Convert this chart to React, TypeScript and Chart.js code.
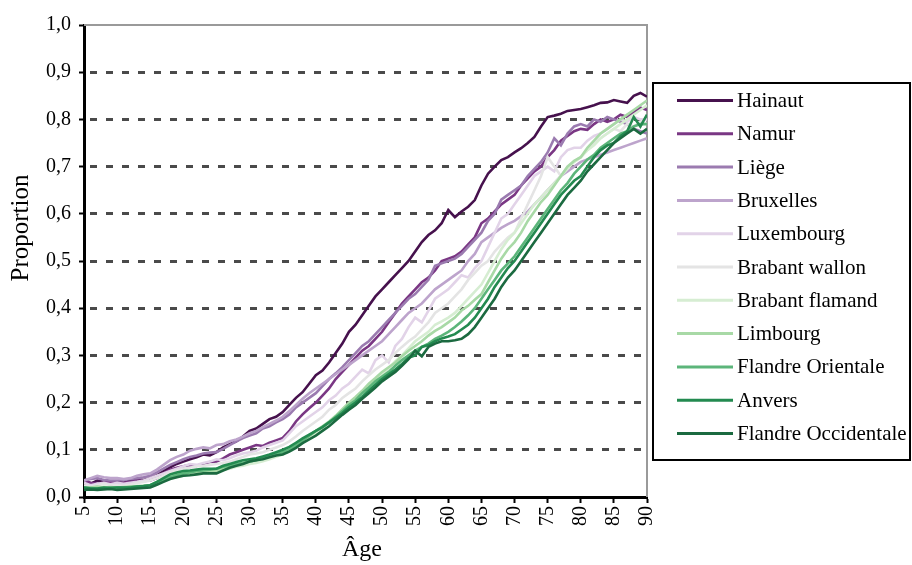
import React, { useEffect, useRef } from "react";
import { Chart, registerables } from "chart.js";

Chart.register(...registerables);

const ages: number[] = [];
for (let a = 5; a <= 90; a++) ages.push(a);

const regions = [
  "Hainaut",
  "Namur",
  "Liège",
  "Bruxelles",
  "Luxembourg",
  "Brabant wallon",
  "Brabant flamand",
  "Limbourg",
  "Flandre Orientale",
  "Anvers",
  "Flandre Occidentale",
];

const colors = [
  "#46114d",
  "#7a3784",
  "#9b7bb0",
  "#bda4cc",
  "#e2d3e8",
  "#e4e4e4",
  "#d6edd2",
  "#a8d9a6",
  "#5cb57a",
  "#238a50",
  "#1b6a40",
];

const yTicks = [0, 0.1, 0.2, 0.3, 0.4, 0.5, 0.6, 0.7, 0.8, 0.9, 1.0];
const xTicks = [5, 10, 15, 20, 25, 30, 35, 40, 45, 50, 55, 60, 65, 70, 75, 80, 85, 90];

const hainaut = [
  0.030, 0.028, 0.035, 0.033, 0.031,
  0.032, 0.030, 0.035, 0.038, 0.036,
  0.040, 0.046, 0.055, 0.063, 0.070,
  0.075, 0.080, 0.084, 0.090, 0.088,
  0.095, 0.105, 0.112, 0.118, 0.128,
  0.140, 0.145, 0.155, 0.165, 0.170,
  0.180, 0.195, 0.210, 0.222, 0.240,
  0.258, 0.268, 0.285, 0.305, 0.325,
  0.350, 0.365, 0.385, 0.405, 0.425,
  0.440, 0.455, 0.470, 0.485, 0.500,
  0.520, 0.540, 0.555, 0.565, 0.580,
  0.608, 0.593, 0.605, 0.615, 0.629,
  0.660, 0.685, 0.700, 0.714, 0.720,
  0.730, 0.739, 0.750, 0.763, 0.785,
  0.805, 0.808, 0.812, 0.818, 0.820,
  0.822, 0.826, 0.830, 0.835, 0.836,
  0.841, 0.838, 0.835, 0.850, 0.856,
  0.848,
];

const namur = [
  0.035, 0.030, 0.028, 0.030, 0.032,
  0.030, 0.030, 0.032, 0.035, 0.034,
  0.035, 0.040, 0.050, 0.058, 0.062,
  0.065, 0.068, 0.066, 0.070, 0.074,
  0.075, 0.082, 0.090, 0.095, 0.100,
  0.105, 0.110, 0.108, 0.115, 0.120,
  0.125, 0.140, 0.160, 0.175, 0.188,
  0.200, 0.215, 0.230, 0.250, 0.265,
  0.280, 0.295, 0.310, 0.320, 0.335,
  0.350, 0.370, 0.390, 0.410, 0.425,
  0.440, 0.455, 0.465, 0.480, 0.500,
  0.505, 0.510, 0.520, 0.535, 0.550,
  0.580, 0.590, 0.605, 0.620, 0.630,
  0.640, 0.660, 0.675, 0.690, 0.700,
  0.720, 0.735, 0.755, 0.765, 0.775,
  0.780, 0.778, 0.790, 0.800, 0.795,
  0.800, 0.810, 0.805, 0.815, 0.825,
  0.820,
];

const liege = [
  0.035, 0.038, 0.040, 0.036, 0.035,
  0.035, 0.036, 0.038, 0.040, 0.042,
  0.045, 0.052, 0.060, 0.068, 0.074,
  0.080, 0.085, 0.088, 0.092, 0.094,
  0.095, 0.102, 0.110, 0.118, 0.125,
  0.130, 0.135, 0.145, 0.150, 0.158,
  0.165, 0.175, 0.190, 0.200, 0.210,
  0.220, 0.235, 0.250, 0.262, 0.275,
  0.290, 0.305, 0.320, 0.330, 0.345,
  0.360, 0.375, 0.390, 0.405, 0.420,
  0.430, 0.445, 0.460, 0.490, 0.495,
  0.500, 0.505, 0.515, 0.530, 0.545,
  0.560, 0.585, 0.600, 0.630, 0.640,
  0.650, 0.660, 0.680, 0.695, 0.710,
  0.730, 0.760, 0.745, 0.770, 0.785,
  0.790, 0.785, 0.800, 0.795, 0.805,
  0.800, 0.795, 0.790, 0.780, 0.775,
  0.770,
];

const bruxelles = [
  0.035, 0.040, 0.045, 0.042, 0.040,
  0.040, 0.038, 0.040, 0.045, 0.048,
  0.050, 0.058, 0.068, 0.078, 0.085,
  0.090, 0.098, 0.102, 0.105, 0.103,
  0.110, 0.112, 0.118, 0.122, 0.128,
  0.135, 0.140, 0.148, 0.155, 0.162,
  0.170, 0.182, 0.195, 0.208, 0.220,
  0.230, 0.240, 0.250, 0.260, 0.270,
  0.280, 0.290, 0.300, 0.310, 0.320,
  0.330, 0.345, 0.360, 0.375, 0.390,
  0.400, 0.410, 0.425, 0.440, 0.450,
  0.460, 0.470, 0.480, 0.500, 0.515,
  0.540, 0.550, 0.560, 0.570, 0.578,
  0.585, 0.595, 0.605, 0.620, 0.635,
  0.650, 0.665, 0.680, 0.690, 0.700,
  0.710, 0.715, 0.720, 0.725, 0.730,
  0.735, 0.740, 0.745, 0.750, 0.755,
  0.760,
];

const luxembourg = [
  0.030, 0.025, 0.028, 0.030, 0.027,
  0.030, 0.028, 0.030, 0.032, 0.035,
  0.040, 0.045, 0.050, 0.055, 0.060,
  0.065, 0.070, 0.068, 0.072, 0.075,
  0.080, 0.078, 0.082, 0.088, 0.092,
  0.095, 0.098, 0.105, 0.110, 0.115,
  0.120, 0.135, 0.150, 0.160, 0.170,
  0.180, 0.190, 0.205, 0.215, 0.230,
  0.240, 0.255, 0.270, 0.262, 0.290,
  0.300, 0.285, 0.320, 0.335, 0.360,
  0.380, 0.370, 0.395, 0.420, 0.430,
  0.440, 0.455, 0.470, 0.465, 0.485,
  0.500, 0.530, 0.560, 0.590, 0.600,
  0.620, 0.640, 0.660, 0.680, 0.690,
  0.700, 0.690, 0.720, 0.735, 0.740,
  0.740, 0.755, 0.765, 0.770, 0.780,
  0.790, 0.800, 0.795, 0.805, 0.800,
  0.800,
];

const brabantWallon = [
  0.025, 0.022, 0.025, 0.028, 0.025,
  0.025, 0.024, 0.026, 0.030, 0.032,
  0.035, 0.040, 0.045, 0.052, 0.056,
  0.060, 0.062, 0.065, 0.066, 0.068,
  0.070, 0.072, 0.075, 0.080, 0.085,
  0.090, 0.092, 0.095, 0.100, 0.105,
  0.110, 0.118, 0.128, 0.140, 0.150,
  0.160, 0.170, 0.185, 0.195, 0.210,
  0.220, 0.230, 0.245, 0.258, 0.270,
  0.280, 0.290, 0.305, 0.318, 0.330,
  0.340, 0.355, 0.370, 0.390, 0.400,
  0.410, 0.425, 0.440, 0.460, 0.475,
  0.490, 0.500, 0.520, 0.535, 0.550,
  0.560, 0.590, 0.620, 0.650, 0.680,
  0.720, 0.700, 0.680, 0.700, 0.710,
  0.720, 0.735, 0.750, 0.760, 0.770,
  0.780, 0.775, 0.790, 0.785, 0.795,
  0.790,
];

const brabantFlamand = [
  0.020, 0.018, 0.020, 0.022, 0.020,
  0.020, 0.020, 0.022, 0.022, 0.024,
  0.025, 0.030, 0.035, 0.040, 0.042,
  0.045, 0.048, 0.050, 0.052, 0.054,
  0.055, 0.058, 0.060, 0.064, 0.066,
  0.070, 0.072, 0.076, 0.080, 0.085,
  0.090, 0.098, 0.108, 0.118, 0.125,
  0.135, 0.145, 0.158, 0.170, 0.182,
  0.195, 0.208, 0.220, 0.235, 0.248,
  0.260, 0.272, 0.288, 0.300, 0.315,
  0.330, 0.340, 0.350, 0.365, 0.372,
  0.380, 0.390, 0.405, 0.420, 0.435,
  0.450, 0.475, 0.500, 0.525, 0.545,
  0.560, 0.580, 0.600, 0.620, 0.635,
  0.650, 0.665, 0.680, 0.695, 0.710,
  0.720, 0.735, 0.745, 0.760, 0.770,
  0.780, 0.790, 0.800, 0.810, 0.820,
  0.830,
];

const limbourg = [
  0.020, 0.020, 0.022, 0.020, 0.021,
  0.020, 0.021, 0.022, 0.023, 0.024,
  0.025, 0.032, 0.038, 0.044, 0.048,
  0.050, 0.052, 0.053, 0.055, 0.054,
  0.055, 0.060, 0.064, 0.068, 0.072,
  0.075, 0.078, 0.082, 0.086, 0.090,
  0.095, 0.102, 0.110, 0.120, 0.130,
  0.140, 0.150, 0.160, 0.172, 0.186,
  0.200, 0.212, 0.225, 0.240, 0.252,
  0.265, 0.275, 0.285, 0.298, 0.310,
  0.320, 0.330, 0.342, 0.352, 0.360,
  0.370, 0.380, 0.395, 0.405, 0.418,
  0.430, 0.455, 0.480, 0.505, 0.525,
  0.540, 0.560, 0.585, 0.605, 0.625,
  0.640, 0.660, 0.680, 0.700, 0.712,
  0.720, 0.740, 0.755, 0.770, 0.780,
  0.790, 0.800, 0.810, 0.820, 0.830,
  0.840,
];

const flandreOrientale = [
  0.020, 0.019, 0.018, 0.019, 0.020,
  0.020, 0.020, 0.021, 0.022, 0.023,
  0.025, 0.030, 0.036, 0.042, 0.046,
  0.050, 0.052, 0.055, 0.056, 0.058,
  0.060, 0.064, 0.066, 0.070, 0.072,
  0.075, 0.078, 0.082, 0.086, 0.090,
  0.095, 0.100, 0.110, 0.120, 0.130,
  0.140, 0.148, 0.158, 0.170, 0.182,
  0.195, 0.205, 0.220, 0.232, 0.245,
  0.255, 0.265, 0.278, 0.290, 0.300,
  0.310, 0.318, 0.325, 0.335, 0.342,
  0.350, 0.360, 0.372, 0.385, 0.400,
  0.420, 0.440, 0.460, 0.480, 0.495,
  0.510, 0.530, 0.550, 0.570, 0.590,
  0.610, 0.630, 0.650, 0.665, 0.685,
  0.700, 0.715, 0.725, 0.740, 0.750,
  0.760, 0.770, 0.775, 0.785, 0.790,
  0.790,
];

const anvers = [
  0.020, 0.018, 0.018, 0.020, 0.019,
  0.020, 0.020, 0.020, 0.022, 0.023,
  0.025, 0.032, 0.040, 0.048, 0.052,
  0.055, 0.056, 0.058, 0.060, 0.060,
  0.060, 0.066, 0.070, 0.074, 0.078,
  0.080, 0.082, 0.086, 0.090, 0.095,
  0.100, 0.106, 0.115, 0.124, 0.132,
  0.140, 0.148, 0.158, 0.168, 0.178,
  0.190, 0.200, 0.212, 0.225, 0.238,
  0.250, 0.260, 0.270, 0.282, 0.295,
  0.300, 0.318, 0.322, 0.330, 0.336,
  0.340, 0.345, 0.355, 0.365, 0.380,
  0.400, 0.420, 0.445, 0.465, 0.485,
  0.500, 0.520, 0.540, 0.560, 0.580,
  0.600, 0.620, 0.640, 0.655, 0.670,
  0.680, 0.700, 0.720, 0.735, 0.745,
  0.750, 0.765, 0.775, 0.805, 0.785,
  0.810,
];

const flandreOccidentale = [
  0.015, 0.016, 0.015, 0.016, 0.017,
  0.015, 0.016, 0.017, 0.018, 0.019,
  0.020, 0.026, 0.032, 0.038, 0.042,
  0.045, 0.046, 0.048, 0.050, 0.050,
  0.050, 0.056, 0.062, 0.066, 0.070,
  0.075, 0.078, 0.080, 0.084, 0.088,
  0.090, 0.096, 0.104, 0.114, 0.122,
  0.130, 0.140, 0.150, 0.162, 0.174,
  0.185, 0.195, 0.208, 0.220, 0.232,
  0.245, 0.255, 0.265, 0.278, 0.292,
  0.310, 0.298, 0.318, 0.325, 0.330,
  0.330, 0.332, 0.335, 0.345, 0.360,
  0.380, 0.400, 0.420, 0.445, 0.465,
  0.480, 0.500, 0.520, 0.540, 0.560,
  0.580, 0.600, 0.620, 0.640, 0.655,
  0.670, 0.690, 0.705, 0.720, 0.735,
  0.750, 0.760, 0.770, 0.780, 0.770,
  0.780,
];

const seriesValues = [
  hainaut,
  namur,
  liege,
  bruxelles,
  luxembourg,
  brabantWallon,
  brabantFlamand,
  limbourg,
  flandreOrientale,
  anvers,
  flandreOccidentale,
];

const FONT = "'Liberation Serif', 'Times New Roman', serif";

const decorPlugin = {
  id: "decor",
  beforeDatasetsDraw(chart: any) {
    const { ctx, chartArea } = chart;
    ctx.save();
    ctx.strokeStyle = "#9a9a9a";
    ctx.lineWidth = 2;
    ctx.beginPath();
    ctx.moveTo(chartArea.left, chartArea.top);
    ctx.lineTo(chartArea.right, chartArea.top);
    ctx.lineTo(chartArea.right, chartArea.bottom);
    ctx.stroke();
    ctx.restore();
  },
  afterDraw(chart: any) {
    const { ctx } = chart;
    ctx.save();
    ctx.fillStyle = "#000";
    ctx.font = `25px ${FONT}`;
    ctx.textAlign = "center";
    ctx.textBaseline = "middle";
    ctx.save();
    ctx.translate(21, 228);
    ctx.rotate(-Math.PI / 2);
    ctx.fillText("Proportion", 0, 0);
    ctx.restore();
    ctx.font = `24px ${FONT}`;
    ctx.fillText("Âge", 362, 550);

    ctx.strokeStyle = "#000";
    ctx.lineWidth = 2;
    ctx.strokeRect(653, 83, 257, 377);
    ctx.font = `21px ${FONT}`;
    ctx.textAlign = "left";
    ctx.textBaseline = "middle";
    chart.data.datasets.forEach((ds: any, i: number) => {
      const y = 100.5 + i * 33.3;
      ctx.strokeStyle = ds.borderColor;
      ctx.lineWidth = 3;
      ctx.beginPath();
      ctx.moveTo(677, y);
      ctx.lineTo(733, y);
      ctx.stroke();
      ctx.fillStyle = "#000";
      ctx.fillText(ds.label, 737, y + 1);
    });
    ctx.restore();
  },
};

export default function App() {
  const ref = useRef<HTMLCanvasElement | null>(null);

  useEffect(() => {
    if (!ref.current) return;
    const datasets = regions.map((name, i) => ({
      label: name,
      data: ages.map((a, j) => ({ x: a, y: seriesValues[i][j] })),
      borderColor: colors[i],
      backgroundColor: colors[i],
      borderWidth: 2.6,
      pointRadius: 0,
      tension: 0,
      fill: false,
      order: -i,
    }));
    const chart = new Chart(ref.current, {
      type: "line",
      data: { datasets },
      plugins: [decorPlugin],
      options: {
        animation: false,
        responsive: false,
        maintainAspectRatio: false,
        layout: { padding: { left: 0, top: 25, right: 265, bottom: 0 } },
        plugins: {
          legend: { display: false },
          tooltip: { enabled: false },
          title: { display: false },
        },
        scales: {
          x: {
            type: "linear",
            min: 5,
            max: 90,
            afterBuildTicks(scale: any) {
              scale.ticks = xTicks.map((v) => ({ value: v }));
            },
            afterFit(scale: any) {
              scale.height = 68;
            },
            ticks: {
              minRotation: 90,
              maxRotation: 90,
              padding: 3,
              color: "#000",
              font: { family: FONT, size: 20 },
              callback: (v: any) => String(v),
            },
            grid: {
              drawOnChartArea: false,
              drawTicks: true,
              tickLength: 6,
              tickColor: "#000",
              tickWidth: 2,
            },
            border: { display: true, color: "#000", width: 3 },
          },
          y: {
            type: "linear",
            min: 0,
            max: 1,
            afterBuildTicks(scale: any) {
              scale.ticks = yTicks.map((v) => ({ value: v }));
            },
            afterFit(scale: any) {
              scale.width = 84;
            },
            ticks: {
              padding: 8,
              color: "#000",
              font: { family: FONT, size: 20 },
              callback: (v: any) => Number(v).toFixed(1).replace(".", ","),
            },
            grid: {
              drawOnChartArea: true,
              drawTicks: true,
              tickLength: 5,
              tickColor: "#000",
              tickWidth: 2,
              tickBorderDash: [],
              lineWidth: 3,
              color: (ctx: any) => {
                const v = ctx.tick ? ctx.tick.value : 0;
                if (v <= 0.0001 || v >= 0.9999) return "rgba(0,0,0,0)";
                return "#4a4a4a";
              },
            },
            border: { display: true, color: "#000", width: 3, dash: [7, 9], dashOffset: -4 },
          },
        },
      },
    });
    return () => chart.destroy();
  }, []);

  return (
    <div style={{ position: "absolute", left: 0, top: 0, width: 912, height: 565, background: "#fff" }}>
      <canvas ref={ref} width={912} height={565} style={{ display: "block" }} />
    </div>
  );
}
